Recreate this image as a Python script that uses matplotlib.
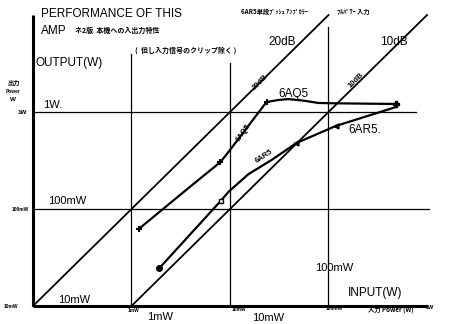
import matplotlib
matplotlib.use("Agg")
import matplotlib.pyplot as plt

# 出力特性 (入力電力 vs 出力電力), 両対数
aq5_in = [0.00118, 0.0038, 0.0080, 0.0097, 0.0235, 0.031, 0.039, 0.056, 0.079, 0.118, 0.48]
aq5_out = [0.062, 0.165, 0.305, 0.39, 1.27, 1.33, 1.36, 1.31, 1.24, 1.23, 1.21]

ar5_in = [0.00192, 0.0081, 0.0097, 0.0154, 0.0264, 0.0473, 0.118, 0.49]
ar5_out = [0.0246, 0.122, 0.151, 0.229, 0.32, 0.479, 0.717, 1.13]

gain_db = [20, 10]
gain_in_range = [(1e-4, 0.1), (1e-3, 1.0)]

x_grid = [1e-3, 1e-2, 1e-1]
x_grid_top = [4.0, 3.2, 7.5]
y_grid = [1.0, 0.1]
y_grid_right = [0.78, 1.06]

W, H = 450, 324
fig = plt.figure(figsize=(4.5, 3.24), dpi=100)
ax = fig.add_axes([0, 0, 1, 1])
ax.set_xscale("log")
ax.set_yscale("log")
ax.set_xlim(10 ** -4.335, 10 ** 0.2335)
ax.set_ylim(10 ** -2.1856, 10 ** 1.155)
ax.axis("off")

K = "black"
SANS = ["Liberation Sans", "DejaVu Sans"]
JP = ["Noto Sans CJK JP", "DejaVu Sans"]


def put(x, y, s, size=8.5, fam=SANS, **kw):
    # x, y はピクセル位置 (左上原点)
    fig.text(x / W, 1 - y / H, s, fontsize=size, family=fam, color=K, **kw)


# 軸
ax.plot([1e-4, 1e-4], [1e-2, 10], color=K, lw=2.2, solid_capstyle="butt")
ax.plot([1e-4, 1.0], [1e-2, 1e-2], color=K, lw=2.2, solid_capstyle="butt")

# 格子
for gx, top in zip(x_grid, x_grid_top):
    ax.plot([gx, gx], [1e-2, top], color=K, lw=0.9)
for gy, right in zip(y_grid, y_grid_right):
    ax.plot([1e-4, right], [gy, gy], color=K, lw=0.9)

# 利得線 20dB / 10dB
for g, (a, b) in zip(gain_db, gain_in_range):
    k = 10 ** (g / 10)
    ax.plot([a, b], [a * k, b * k], color=K, lw=1.3)

# 特性曲線
ax.plot(aq5_in, aq5_out, color=K, lw=1.6)
ax.plot(ar5_in, ar5_out, color=K, lw=1.6)
ax.plot([aq5_in[0], aq5_in[2], aq5_in[4]], [aq5_out[0], aq5_out[2], aq5_out[4]],
        ls="none", marker="+", ms=5, mew=1.5, color=K)
ax.plot(ar5_in[0], ar5_out[0], ls="none", marker="o", ms=4, color=K)
ax.plot(ar5_in[1], ar5_out[1], ls="none", marker="s", ms=3.5, mfc="white", mec=K, mew=1)
ax.plot([ar5_in[5], ar5_in[6]], [ar5_out[5], ar5_out[6]], ls="none", marker="<",
        ms=3.5, color=K)
ax.plot(aq5_in[-1], aq5_out[-1], ls="none", marker="P", ms=5, color=K)

# 見出し
put(41, 17, "PERFORMANCE OF THIS")
put(41, 34, "AMP")
put(35, 66, "OUTPUT(W)")
put(348, 296, "INPUT(W)")

# 目盛りの値
put(43, 108, "1W.", size=8)
put(48, 204, "100mW", size=8)
put(58, 303, "10mW", size=8)
put(147, 320, "1mW", size=8)
put(252, 321, "10mW", size=8)
put(315, 271, "100mW", size=8)

put(268, 45, "20dB")
put(380, 45, "10dB")
put(278, 97, "6AQ5")
put(348, 133, "6AR5.")

# 手書きメモ
put(75, 33, "ネ2版  本機への入出力特性", size=5, fam=JP, weight="bold")
put(135, 53, "(  但し入力信号のクリップ除く )", size=5, fam=JP, weight="bold")
put(241, 14, "6AR5単段ﾌﾟｯｼｭ ｱﾝﾌﾟｶﾗｰ", size=4.5, fam=JP, weight="bold")
put(337, 14, "ﾌﾙﾊﾟﾜｰ 入力", size=4.5, fam=JP, weight="bold")

put(251, 89, "20dB", size=5.5, weight="bold", rotation=45)
put(347, 87, "10dB", size=5.5, weight="bold", rotation=45)
put(235, 141, "6AQ5", size=5.5, weight="bold", rotation=55)
put(254, 163, "6AR5", size=5.5, weight="bold", rotation=33)

# 軸上の小さな目盛り記入
put(7, 85, "出力", size=4.5, fam=JP, weight="bold")
put(6, 93, "Power", size=3.5, weight="bold")
put(10, 101, "W", size=4.5, weight="bold")
put(18, 114, "1W", size=4.5, weight="bold")
put(12, 211, "100mW", size=3.5, weight="bold")
put(4, 308, "10mW", size=3.5, weight="bold")
put(128, 312, "1mW", size=3.5, weight="bold")
put(232, 311, "10mW", size=3.5, weight="bold")
put(326, 310, "100mW", size=3.5, weight="bold")
put(368, 313, "入力 Power (W)", size=4.5, fam=JP, weight="bold")
put(426, 309, "1W", size=4, weight="bold")

fig.savefig("out.png", dpi=100, facecolor="white")
